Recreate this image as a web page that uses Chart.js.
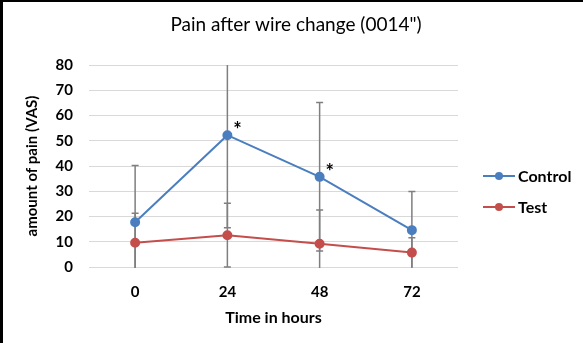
<!DOCTYPE html>
<html>
<head>
<meta charset="utf-8">
<script src="https://cdn.jsdelivr.net/npm/chart.js@4"></script>
<style>
  html, body { margin: 0; padding: 0; background: #fff; }
  #chart { display: block; }
</style>
</head>
<body>
<canvas id="chart" width="583" height="343"></canvas>
<script>
// values
const hours = ['0', '24', '48', '72'];
const control = [17.7, 52.2, 35.7, 14.6];
const test = [9.6, 12.6, 9.2, 5.7];
const controlErr = [22.5, 36.7, 29.4, 15.3];
const testErr = [11.7, 12.6, 13.4, 5.9];
const controlMarks = ['', '*', '*', ''];
const yMin = 0, yMax = 80, yStep = 10;
const chartTitle = 'Pain after wire change (0014")';

const blue = '#4a7ebf';
const red = '#c44e4b';
const errColor = '#7f7f7f';
const font = 'Lato, "Open Sans", sans-serif';

// gray error bars, drawn under the lines and clipped to the plot area
const errorBars = {
  id: 'errorBars',
  beforeDatasetsDraw(chart) {
    const { ctx, chartArea, scales: { x, y } } = chart;
    ctx.save();
    ctx.beginPath();
    ctx.rect(chartArea.left, chartArea.top, chartArea.width, chartArea.height + 1);
    ctx.clip();
    ctx.strokeStyle = errColor;
    ctx.lineWidth = 1.5;
    [[control, controlErr], [test, testErr]].forEach(([vals, errs]) => {
      vals.forEach((v, i) => {
        const px = x.getPixelForValue(i);
        const hi = y.getPixelForValue(v + errs[i]);
        const lo = y.getPixelForValue(v - errs[i]);
        ctx.beginPath();
        ctx.moveTo(px, hi);
        ctx.lineTo(px, lo);
        [hi, lo].forEach(py => {
          if (py >= chartArea.top && py <= chartArea.bottom) {
            ctx.moveTo(px - 3.5, py);
            ctx.lineTo(px + 3.5, py);
          }
        });
        ctx.stroke();
      });
    });
    ctx.restore();
  }
};

// title, asterisks, legend and frame
const extras = {
  id: 'extras',
  afterDraw(chart) {
    const { ctx, chartArea } = chart;
    ctx.save();
    ctx.fillStyle = '#000';
    ctx.font = '19px ' + font;
    ctx.textAlign = 'center';
    ctx.textBaseline = 'middle';
    ctx.fillText(chartTitle, 296, 25);

    const pts = chart.getDatasetMeta(0).data;
    ctx.font = 'bold 20px ' + font;
    ctx.textBaseline = 'alphabetic';
    controlMarks.forEach((m, i) => {
      if (m) ctx.fillText(m, pts[i].x + 10, pts[i].y + 2);
    });

    const items = [['Control', blue], ['Test', red]];
    const lx = chartArea.right + 25;
    let ly = chartArea.top + 111;
    ctx.textAlign = 'left';
    ctx.textBaseline = 'middle';
    items.forEach(([label, color]) => {
      ctx.strokeStyle = color;
      ctx.lineWidth = 2;
      ctx.beginPath();
      ctx.moveTo(lx, ly);
      ctx.lineTo(lx + 32, ly);
      ctx.stroke();
      ctx.fillStyle = color;
      ctx.beginPath();
      ctx.arc(lx + 16, ly, 4, 0, Math.PI * 2);
      ctx.fill();
      ctx.fillStyle = '#000';
      ctx.font = 'bold 16px ' + font;
      ctx.fillText(label, lx + 35, ly + 1);
      ly += 31;
    });

    ctx.fillStyle = '#000';
    ctx.fillRect(0, 0, chart.width, 2);
    ctx.fillRect(0, 0, 3, chart.height);
    ctx.restore();
  }
};

new Chart(document.getElementById('chart'), {
  type: 'line',
  data: {
    labels: hours,
    datasets: [
      {
        label: 'Control',
        data: control,
        borderColor: blue,
        backgroundColor: blue,
        borderWidth: 2,
        pointRadius: 4,
        pointHoverRadius: 4,
        tension: 0
      },
      {
        label: 'Test',
        data: test,
        borderColor: red,
        backgroundColor: red,
        borderWidth: 2,
        pointRadius: 4,
        pointHoverRadius: 4,
        tension: 0
      }
    ]
  },
  options: {
    responsive: false,
    animation: false,
    layout: { padding: { left: 3, right: 125, top: 65, bottom: 10 } },
    plugins: {
      legend: { display: false },
      tooltip: { enabled: false },
      title: { display: false }
    },
    scales: {
      x: {
        offset: true,
        grid: { display: false, drawTicks: false },
        border: { display: false },
        ticks: { color: '#000', padding: 16, font: { family: font, size: 15, weight: 'bold' } },
        title: {
          display: true,
          text: 'Time in hours',
          color: '#000',
          font: { family: font, size: 16, weight: 'bold' },
          padding: { top: 8, bottom: 6 }
        },
        afterFit(scale) { scale.height = 66; }
      },
      y: {
        min: yMin,
        max: yMax,
        grid: { color: '#d9d9d9', lineWidth: 1, drawTicks: false },
        border: { display: false },
        ticks: { stepSize: yStep, color: '#000', padding: 16, font: { family: font, size: 15, weight: 'bold' } },
        title: {
          display: true,
          text: 'amount of pain (VAS)',
          color: '#000',
          font: { family: font, size: 15, weight: 'bold' },
          padding: { top: 20, bottom: 0 }
        },
        afterFit(scale) { scale.width = 86; }
      }
    }
  },
  plugins: [errorBars, extras]
});
</script>
</body>
</html>
